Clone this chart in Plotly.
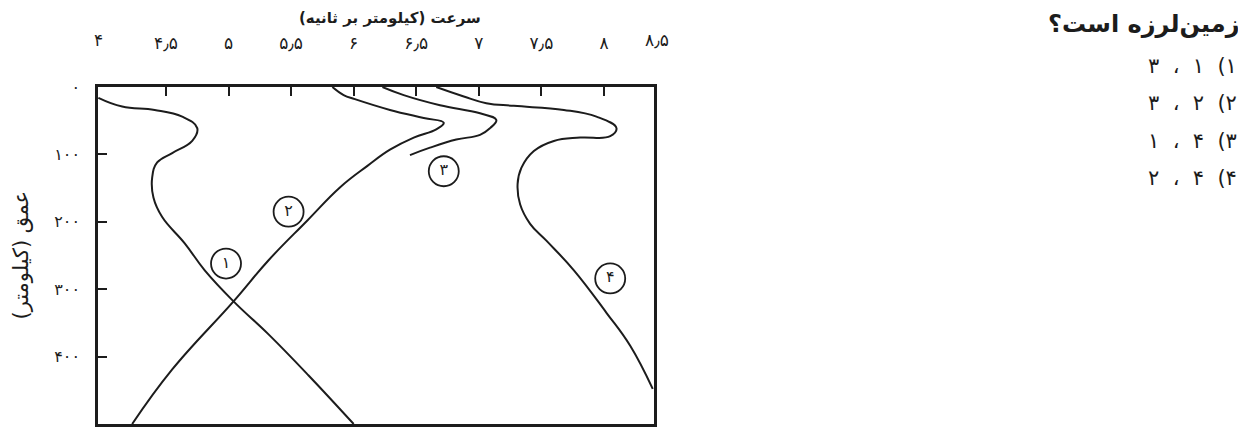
import plotly.graph_objects as go

RLM = "\u200f"

# velocity (km/s) vs depth (km) for the four curves
c1_v = [3.96, 4.15, 4.41, 4.63, 4.75, 4.71, 4.55, 4.43, 4.39, 4.40, 4.47, 4.65, 4.81, 5.04, 5.32, 5.64, 6.00]
c1_d = [16, 29, 34, 44, 61, 80, 98, 112, 134, 164, 193, 232, 272, 318, 367, 428, 500]

c2_v = [5.83, 5.92, 6.01, 6.29, 6.56, 6.72, 6.66, 6.48, 6.29, 6.11, 5.89, 5.63, 5.32, 5.04, 4.55, 4.23]
c2_d = [0, 12, 18, 34, 46, 53, 63, 75, 93, 117, 149, 198, 257, 318, 419, 500]

c3_v = [6.23, 6.40, 6.69, 7.01, 7.14, 7.09, 7.01, 6.82, 6.61, 6.45]
c3_d = [0, 12, 27, 39, 49, 61, 71, 78, 90, 101]

c4_v = [6.66, 6.88, 7.06, 7.28, 7.68, 7.94, 8.10, 8.05, 7.81, 7.60, 7.44, 7.34, 7.31, 7.33, 7.41, 7.54, 7.76, 8.02, 8.21, 8.39]
c4_d = [0, 14, 24, 28, 34, 44, 61, 73, 75, 80, 95, 120, 144, 174, 203, 228, 272, 335, 384, 448]

# circled curve numbers
label_v = [4.98, 5.48, 6.72, 8.05]
label_d = [262, 185, 125, 284]
label_txt = ["۱", "۲", "۳", "۴"]

# axis ticks
x_ticks = [4.5, 5, 5.5, 6, 6.5, 7, 7.5, 8]
x_ticktext = ["۴٫۵", "۵", "۵٫۵", "۶", "۶٫۵", "۷", "۷٫۵", "۸"]
y_ticks = [0, 100, 200, 300, 400, 500]
y_ticktext = ["۰", "۱۰۰", "۲۰۰", "۳۰۰", "۴۰۰", "۵۰۰"]

x_title = "سرعت (کیلومتر بر ثانیه)"
y_title = "عمق (کیلومتر)"
question = "زمین‌لرزه است؟"
# answer choices, written in the order they appear on the page (right-to-left)
options = ["۳  ،  ۱  (۱", "۳  ،  ۲  (۲", "۱  ،  ۴  (۳", "۲  ،  ۴  (۴"]

FONT = "DejaVu Sans"
INK = "#1c1c1c"

fig = go.Figure()
for v, d in [(c1_v, c1_d), (c2_v, c2_d), (c3_v, c3_d), (c4_v, c4_d)]:
    fig.add_trace(go.Scatter(x=v, y=d, mode="lines",
                             line=dict(color=INK, width=2, shape="spline", smoothing=1.2),
                             hoverinfo="skip", showlegend=False))

fig.add_trace(go.Scatter(x=label_v, y=label_d, mode="markers+text", text=label_txt,
                         textposition="middle center",
                         textfont=dict(family=FONT, size=16, color=INK),
                         marker=dict(symbol="circle-open", size=30, color=INK, line=dict(width=1.8)),
                         hoverinfo="skip", showlegend=False))

fig.update_xaxes(range=[3.957, 8.40], side="top", tickvals=x_ticks, ticktext=x_ticktext,
                 ticks="inside", ticklen=9, tickwidth=2, tickcolor=INK,
                 ticklabelstandoff=28,
                 showline=True, linewidth=2.5, linecolor=INK, mirror=True,
                 showgrid=False, zeroline=False,
                 tickfont=dict(family=FONT, size=17, color=INK))
fig.update_yaxes(range=[500, 0], tickvals=y_ticks, ticktext=y_ticktext,
                 ticks="inside", ticklen=9, tickwidth=2, tickcolor=INK,
                 ticklabelstandoff=12,
                 showline=True, linewidth=2.5, linecolor=INK, mirror=True,
                 showgrid=False, zeroline=False,
                 tickfont=dict(family=FONT, size=16, color=INK))

ann = []
# end labels of the velocity axis, sitting on the frame corners
for txt, xp in [("۴", 0.0), ("۸٫۵", 1.005)]:
    ann.append(dict(text=txt, xref="paper", yref="paper", x=xp, y=1, xanchor="center",
                    yanchor="bottom", yshift=35, showarrow=False,
                    font=dict(family=FONT, size=17, color=INK)))
ann.append(dict(text="<b>" + x_title + RLM + "</b>", xref="paper", yref="paper", x=0.525, y=1,
                xanchor="center", yanchor="bottom", yshift=58, showarrow=False,
                font=dict(family=FONT, size=15, color=INK)))
ann.append(dict(text=RLM + y_title + RLM, xref="paper", yref="paper", x=0, y=0.5,
                xanchor="center", yanchor="middle", xshift=-78, textangle=-90,
                showarrow=False, font=dict(family=FONT, size=21, color=INK)))
ann.append(dict(text="<b>" + question + "</b>", xref="paper", yref="paper", x=2.058, y=1,
                xanchor="right", yanchor="middle", yshift=63, showarrow=False,
                font=dict(family=FONT, size=24, color=INK)))
for i, opt in enumerate(options):
    ann.append(dict(text=opt, xref="paper", yref="paper", x=2.052, y=1,
                    xanchor="right", yanchor="middle", yshift=21 - 37.3 * i, showarrow=False,
                    font=dict(family=FONT, size=21, color=INK)))

# page body adds an 8px margin, so the figure is 8px smaller on each axis
fig.update_layout(width=1238, height=422, margin=dict(l=90, r=592, t=79, b=3),
                  paper_bgcolor="white", plot_bgcolor="white",
                  font=dict(family=FONT, color=INK), annotations=ann)

fig.write_html("out.html")
